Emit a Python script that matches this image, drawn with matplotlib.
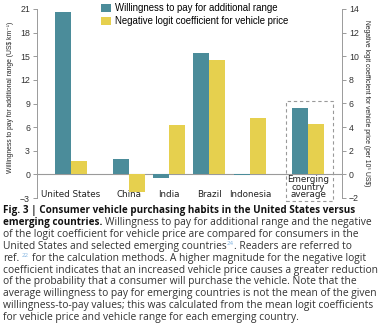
import matplotlib
matplotlib.use('Agg')
import matplotlib.pyplot as plt
from matplotlib import font_manager
from matplotlib.patches import Rectangle

# data
countries = ['United States', 'China', 'India', 'Brazil', 'Indonesia', 'Emerging\ncountry\naverage']
wtp = [20.65, 1.9, -0.4, 15.4, -0.06, 8.4]          # US$ per km, left axis
logit = [1.17, -1.5, 4.2, 9.7, 4.75, 4.25]           # per 10^5 US$, right axis
left_ticks = [-3, 0, 3, 6, 9, 12, 15, 18, 21]
right_ticks = [-2, 0, 2, 4, 6, 8, 10, 12, 14]

# layout
group_x = [0, 1.45, 2.45, 3.45, 4.475, 5.925]
w = 0.41
teal = '#4b8c9a'
yellow = '#e6d04e'
gray = '#9a9a9a'

installed = {f.name for f in font_manager.fontManager.ttflist}
if 'Liberation Sans Narrow' in installed:
    narrow = ['Liberation Sans Narrow', 'DejaVu Sans']
    ylab_size = 5.9
else:
    narrow = ['Liberation Sans', 'DejaVu Sans']
    ylab_size = 4.9

plt.rcParams['font.family'] = ['Liberation Sans', 'DejaVu Sans']
fig = plt.figure(figsize=(3.85, 3.23), dpi=100)
ax = fig.add_axes([37/385, 1-198/323, (342-37)/385, (198-9)/323])
ax2 = ax.twinx()

b1 = ax.bar([g - w/2 for g in group_x], wtp, w, color=teal, label='Willingness to pay for additional range')
b2 = ax2.bar([g + w/2 for g in group_x], logit, w, color=yellow, label='Negative logit coefficient for vehicle price')

ax.set_xlim(-0.85, 6.775)
ax.set_ylim(-3, 21)
ax2.set_ylim(-2, 14)
ax.set_yticks(left_ticks)
ax2.set_yticks(right_ticks)
ax.set_xticks([])
ax.axhline(0, color=gray, lw=0.8, zorder=0)

for a in (ax, ax2):
    for s in ('top', 'bottom'):
        a.spines[s].set_visible(False)
    a.spines['left'].set_color(gray)
    a.spines['right'].set_color(gray)
    a.spines['left'].set_linewidth(0.7)
    a.spines['right'].set_linewidth(0.7)
    a.tick_params(axis='y', colors=gray, labelcolor='#333333', labelsize=6.3, length=3, width=0.7, pad=2)
ax2.spines['left'].set_visible(False)
ax.spines['right'].set_visible(False)

for g, name in zip(group_x, countries):
    ax.text(g, -3.15, name, ha='center', va='bottom', fontsize=6.3, linespacing=0.8,
            color='#222222', family=['DejaVu Sans'])

box = Rectangle((5.37, -3.35), 6.54 - 5.37, 9.33 + 3.35, fill=False, ls=(0, (3, 2.5)),
                ec='#999999', lw=0.8, clip_on=False)
ax.add_patch(box)

ax.set_ylabel('Willingness to pay for additional range (US$ km⁻¹)', fontsize=ylab_size, color='#222222',
              family=narrow, va='center')
ax2.set_ylabel('Negative logit coefficient for vehicle price (per 10⁵ US$)', fontsize=ylab_size,
               rotation=270, color='#222222', family=narrow, va='center')
ax.yaxis.set_label_coords(-0.087, 0.53)
ax2.yaxis.set_label_coords(1.08, 0.5)

fig.legend(handles=[b1, b2], loc='upper left', bbox_to_anchor=(101/385, 1-3/323), frameon=False,
           fontsize=6.9, handlelength=1.0, handleheight=0.9, handletextpad=0.45, labelspacing=0.3,
           borderaxespad=0, borderpad=0)

# caption
cap_font = ['Open Sans', 'DejaVu Sans']
cap_size = 7.4
bold_size = 7.1
renderer = fig.canvas.get_renderer()
space_w = None

def seg_width(t):
    return t.get_window_extent(renderer).width / fig.bbox.width

def draw_line(segs, y):
    global space_w
    x = 3/385
    for txt, style in segs:
        if txt.startswith(' '):
            if space_w is None:
                a = fig.text(0, 0, 'a a', family=cap_font, fontsize=cap_size)
                b = fig.text(0, 0, 'aa', family=cap_font, fontsize=cap_size)
                space_w = seg_width(a) - seg_width(b)
                a.remove(); b.remove()
            x += space_w
            txt = txt[1:]
        if style == 'sup':
            t = fig.text(x, y + 3.5/323, txt, family=cap_font, fontsize=cap_size*0.6,
                         color='#7fb2e0', va='baseline')
        elif style == 'bold':
            t = fig.text(x, y, txt, family=cap_font, fontsize=bold_size, weight='bold',
                         color='#111111', va='baseline')
        else:
            t = fig.text(x, y, txt, family=cap_font, fontsize=cap_size, color='#333333', va='baseline')
        x += seg_width(t)

lines = [
    [('Fig. 3 | Consumer vehicle purchasing habits in the United States versus', 'bold')],
    [('emerging countries.', 'bold'), (' Willingness to pay for additional range and the negative', 'reg')],
    [('of the logit coefficient for vehicle price are compared for consumers in the', 'reg')],
    [('United States and selected emerging countries', 'reg'), ('24', 'sup'), ('. Readers are referred to', 'reg')],
    [('ref.', 'reg'), (' 22', 'sup'), (' for the calculation methods. A higher magnitude for the negative logit', 'reg')],
    [('coefficient indicates that an increased vehicle price causes a greater reduction', 'reg')],
    [('of the probability that a consumer will purchase the vehicle. Note that the', 'reg')],
    [('average willingness to pay for emerging countries is not the mean of the given', 'reg')],
    [('willingness-to-pay values; this was calculated from the mean logit coefficients', 'reg')],
    [('for vehicle price and vehicle range for each emerging country.', 'reg')],
]
for i, segs in enumerate(lines):
    y_px = 213.5 + i * 11.8
    draw_line(segs, 1 - y_px/323)

fig.savefig('out.png', dpi=100)
